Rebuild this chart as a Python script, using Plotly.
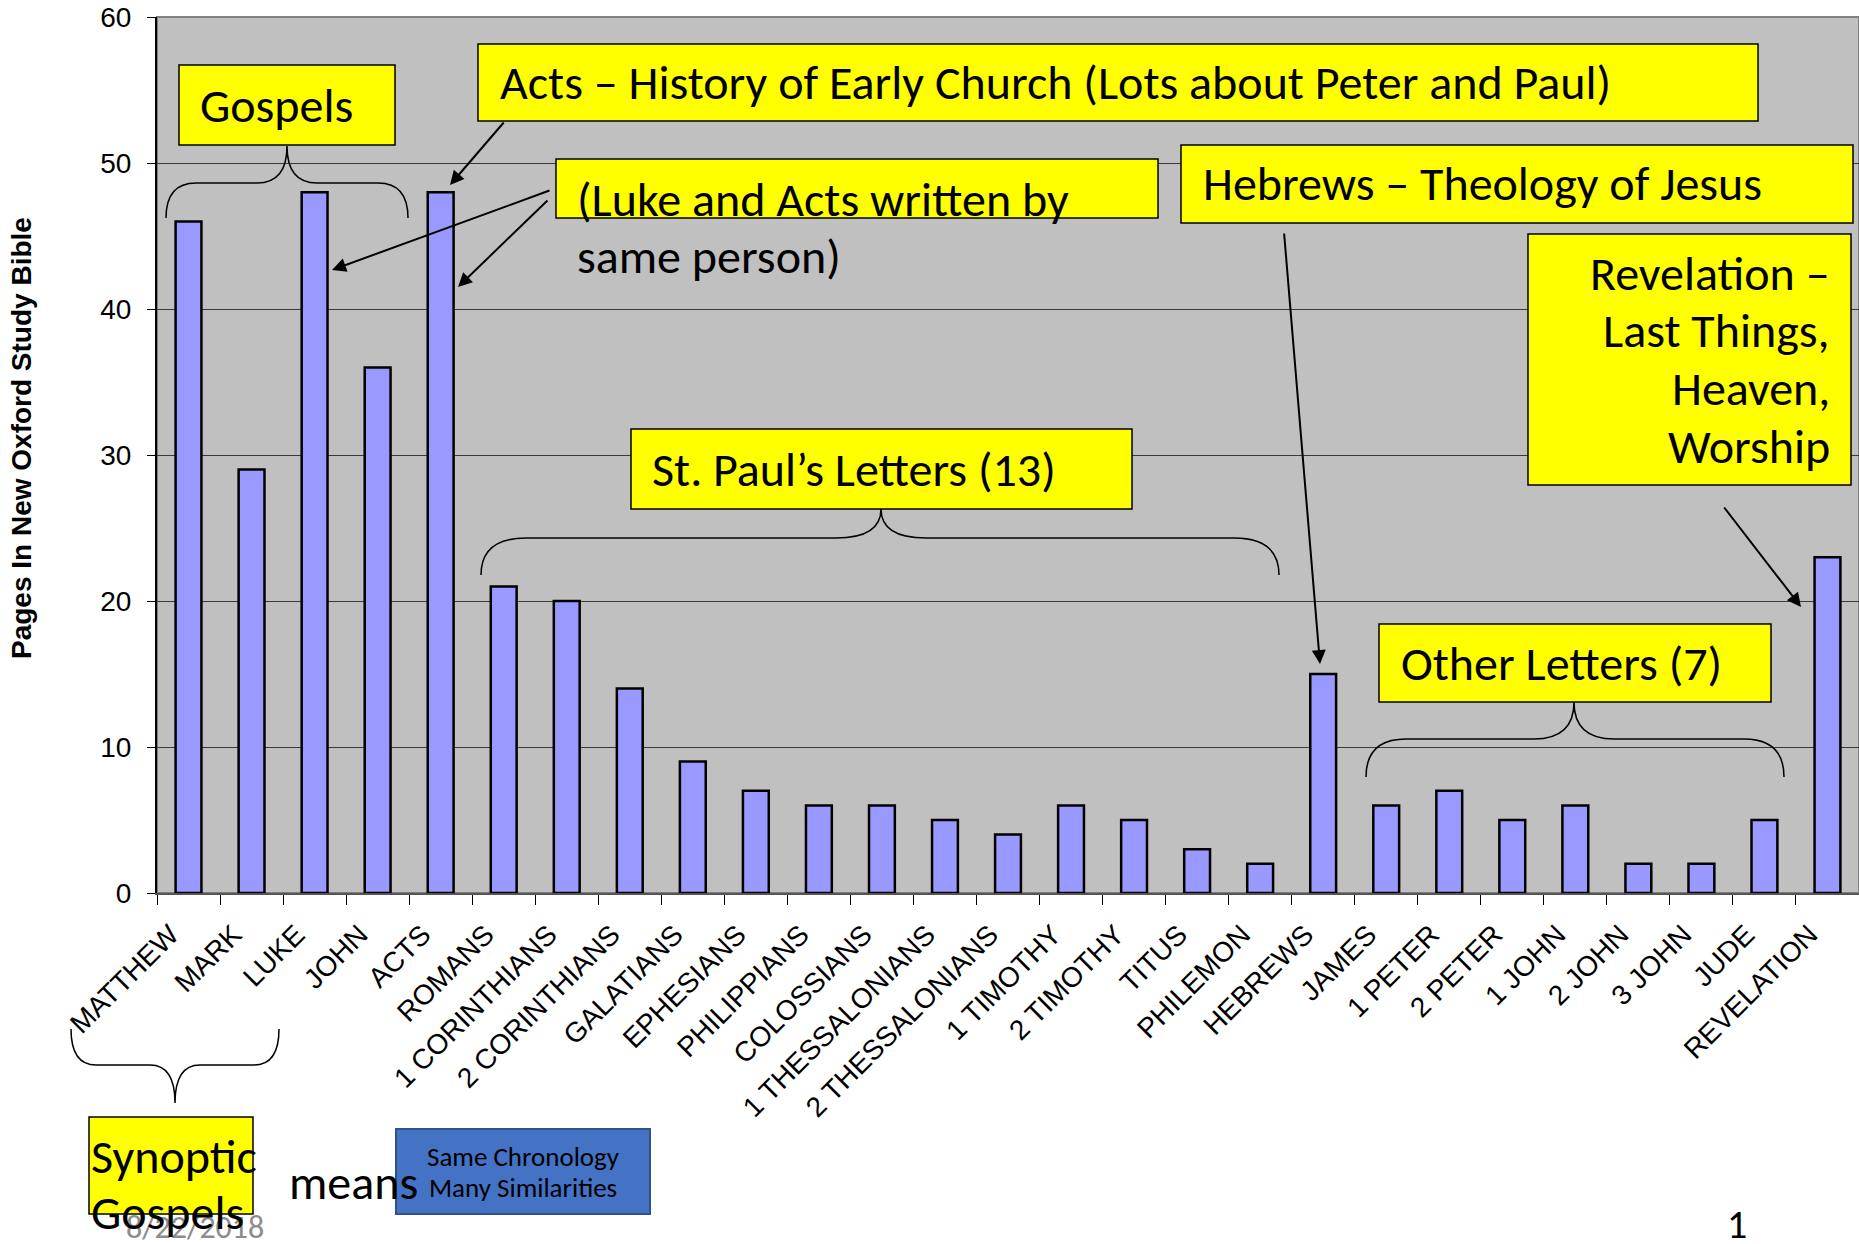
import plotly.graph_objects as go

# ---------------- data ----------------
books = ["MATTHEW", "MARK", "LUKE", "JOHN", "ACTS", "ROMANS", "1 CORINTHIANS",
         "2 CORINTHIANS", "GALATIANS", "EPHESIANS", "PHILIPPIANS", "COLOSSIANS",
         "1 THESSALONIANS", "2 THESSALONIANS", "1 TIMOTHY", "2 TIMOTHY", "TITUS",
         "PHILEMON", "HEBREWS", "JAMES", "1 PETER", "2 PETER", "1 JOHN", "2 JOHN",
         "3 JOHN", "JUDE", "REVELATION"]
pages = [46, 29, 48, 36, 48, 21, 20, 14, 9, 7, 6, 6, 5, 4, 6, 5, 3, 2, 15,
         6, 7, 5, 6, 2, 2, 5, 23]
y_ticks = [0, 10, 20, 30, 40, 50, 60]
y_title = "Pages In New Oxford Study Bible"

# ---------------- layout geometry (pixels) ----------------
W, H = 1859, 1244
L, R, T, B = 157, 1859, 17, 893

def fx(p):
    return (p - L) / (R - L)

def fy(p):
    return (B - p) / (B - T)

CAL = "Carlito, Lato, sans-serif"
ARIAL = "Arial, Liberation Sans, sans-serif"
YEL = "#FFFF00"
FS = 48

fig = go.Figure()
fig.add_trace(go.Bar(
    x=books, y=pages, width=0.41,
    marker=dict(color="#9999FF", line=dict(color="black", width=2.5)),
    hoverinfo="x+y",
))

shapes = []
annotations = []

# plot border
shapes.append(dict(type="rect", xref="paper", yref="paper", x0=0, y0=0, x1=1, y1=1,
                   line=dict(color="#808080", width=2), layer="below"))

def box(x0, y0, x1, y1, fill=YEL, lc="black", lw=1.5):
    shapes.append(dict(type="rect", xref="paper", yref="paper",
                       x0=fx(x0), x1=fx(x1), y0=fy(y1), y1=fy(y0),
                       fillcolor=fill, line=dict(color=lc, width=lw), layer="above"))

def text(t, x, y, size=FS, xanchor="left", color="black", family=CAL, angle=0):
    annotations.append(dict(text=t, xref="paper", yref="paper", x=fx(x), y=fy(y),
                            xanchor=xanchor, yanchor="middle", showarrow=False,
                            textangle=angle,
                            font=dict(size=size, color=color, family=family)))

def arrow(tx, ty, hx, hy):
    annotations.append(dict(text="", xref="paper", yref="paper", x=fx(hx), y=fy(hy),
                            ax=tx - hx, ay=ty - hy, axref="pixel", ayref="pixel",
                            showarrow=True, arrowhead=2, arrowsize=1.4, arrowwidth=2,
                            arrowcolor="black", standoff=0))

def brace(x0, x1, xt, y_end, y_lvl, y_tip, r=40, rt=40):
    pts = (f"M {fx(x0)},{fy(y_end)} Q {fx(x0)},{fy(y_lvl)} {fx(x0 + r)},{fy(y_lvl)} "
           f"L {fx(xt - rt)},{fy(y_lvl)} Q {fx(xt)},{fy(y_lvl)} {fx(xt)},{fy(y_tip)} "
           f"Q {fx(xt)},{fy(y_lvl)} {fx(xt + rt)},{fy(y_lvl)} "
           f"L {fx(x1 - r)},{fy(y_lvl)} Q {fx(x1)},{fy(y_lvl)} {fx(x1)},{fy(y_end)}")
    shapes.append(dict(type="path", xref="paper", yref="paper", path=pts,
                       line=dict(color="black", width=1.5), layer="above"))

# Gospels
box(179, 65, 395, 145)
text("Gospels", 198, 105)
brace(166, 408, 287, 218, 183, 146, r=30, rt=30)

# Acts
box(478, 44, 1758, 121)
text("Acts \u2013 History of Early Church (Lots about Peter and Paul)", 498, 83)
arrow(505, 121, 450, 185)

# Luke & Acts
box(556, 159, 1158, 218)
text("(Luke and Acts written by", 575, 199)
text("same person)", 575, 256)
arrow(551, 190, 332, 270)
arrow(549, 199, 458, 287)

# Hebrews
box(1181, 145, 1853, 223)
text("Hebrews \u2013 Theology of Jesus", 1201, 184)
arrow(1284, 232, 1320, 664)

# Revelation
box(1528, 234, 1851, 485)
for i, ln in enumerate(["Revelation \u2013", "Last Things,", "Heaven,", "Worship"]):
    text(ln, 1832, 273 + i * 57.7, xanchor="right")
arrow(1723, 506, 1801, 607)

# St Paul
box(631, 429, 1132, 509)
text("St. Paul\u2019s Letters (13)", 650, 469)
brace(481, 1279, 881, 575, 538, 509, r=45, rt=45)

# Other letters
box(1379, 624, 1771, 702)
text("Other Letters (7)", 1399, 663)
brace(1366, 1784, 1574, 777, 739, 702, r=40, rt=40)

# Synoptic
brace(71, 279, 175, 1029, 1065, 1103, r=25, rt=25)
box(89, 1117, 253, 1214)
text("8/22/2018", 124, 1227, size=32, color="#8C8C8C")
text("Synoptic", 89, 1156)
text("Gospels", 89, 1212)
box(396, 1129, 650, 1214, fill="#4472C4", lc="#2F528F", lw=2)
text("means", 287, 1182, size=48)
text("Same Chronology", 523, 1156, size=27, xanchor="center")
text("Many Similarities", 523, 1187, size=27, xanchor="center")
text("1", 1737, 1224, size=40, xanchor="center")

# y axis title
text("<b>" + y_title + "</b>", 22, 438, size=28, xanchor="center", family=ARIAL, angle=-90)

fig.update_layout(
    width=W, height=H,
    margin=dict(l=L, r=W - R, t=T, b=H - B, pad=0),
    paper_bgcolor="white", plot_bgcolor="#C0C0C0",
    showlegend=False, bargap=0.59,
    shapes=shapes, annotations=annotations,
    font=dict(family=ARIAL, color="black"),
)
fig.update_xaxes(
    range=[-0.5, 26.5], tickangle=-45, tickson="boundaries",
    ticks="outside", ticklen=10, tickcolor="black", tickwidth=1,
    showline=True, linecolor="#555555", linewidth=2,
    tickfont=dict(size=28, family=ARIAL, color="black"),
    ticklabelstandoff=12, ticklabelshift=-18, showgrid=False,
)
fig.update_yaxes(
    range=[0, 60], tickvals=y_ticks, ticks="outside", ticklen=8,
    tickcolor="black", showline=True, linecolor="black", linewidth=2,
    gridcolor="#3a3a3a", gridwidth=1, zeroline=False,
    tickfont=dict(size=28, family=ARIAL, color="black"),
    ticklabelstandoff=10,
)

fig.write_html("out.html", config={"displayModeBar": False},
               post_script="document.body.style.margin='0';")
